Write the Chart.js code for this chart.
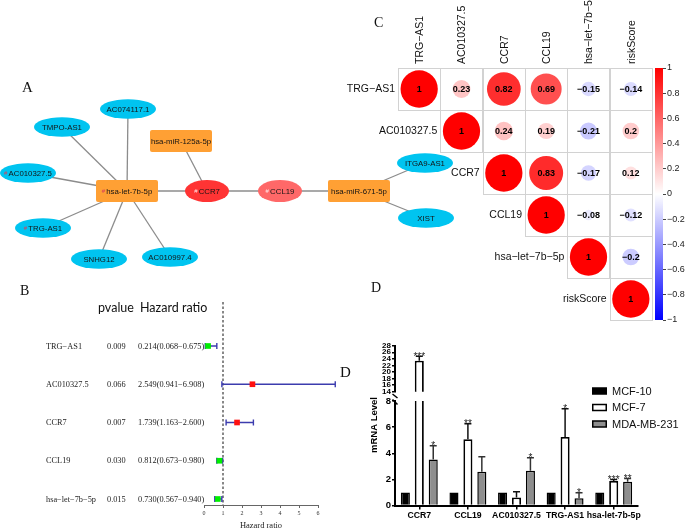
<!DOCTYPE html>
<html><head><meta charset="utf-8">
<script src="https://cdn.jsdelivr.net/npm/chart.js@4.4.1/dist/chart.umd.min.js"></script>
<style>
html,body{margin:0;padding:0;background:#fff;}
#wrap{position:relative;width:685px;height:531px;overflow:hidden;background:#fff;}
canvas{position:absolute;}
.lab{position:absolute;font-family:"Liberation Serif","Times New Roman",serif;color:#111;line-height:1;white-space:nowrap;}
</style></head><body>
<div id="wrap">
<canvas id="net" width="470" height="285" style="left:0px;top:0px"></canvas>
<canvas id="corr" width="330" height="330" style="left:340px;top:0px"></canvas>
<canvas id="cbar" width="85" height="330" style="left:600px;top:0px"></canvas>
<canvas id="forest" width="345" height="251" style="left:0px;top:280px"></canvas>
<canvas id="barUp" width="345" height="70" style="left:340px;top:330px"></canvas>
<canvas id="barLow" width="345" height="201" style="left:340px;top:330px"></canvas>
<div class="lab" style="left:22px;top:80px;font-size:15px">A</div>
<div class="lab" style="left:20px;top:284px;font-size:14px">B</div>
<div class="lab" style="left:374px;top:16px;font-size:14px">C</div>
<div class="lab" style="left:371px;top:281px;font-size:14px">D</div>
<div class="lab" style="left:340px;top:365px;font-size:15px">D</div>
</div>
<script>
// ---------- Panel A: network ----------
const nodeNames = ['AC074117.1','TMPO-AS1','hsa-miR-125a-5p','AC010327.5','hsa-let-7b-5p','CCR7','CCL19','hsa-miR-671-5p','TRG-AS1','SNHG12','AC010997.4','ITGA9-AS1','XIST'];
const nodeKinds = ['lncRNA','lncRNA','miRNA','lncRNA','miRNA','mRNA','mRNA','miRNA','lncRNA','lncRNA','lncRNA','lncRNA','lncRNA'];
const nodeX = [128,62,181,28,127,207,280,359,43,99,170,425,426];
const nodeY = [109,127,141,173,191,191,191,191,228,259,257,163,218];
const markedNodes = ['AC010327.5','hsa-let-7b-5p','CCR7','CCL19','TRG-AS1'];
const edgeFrom = ['hsa-let-7b-5p','hsa-let-7b-5p','hsa-let-7b-5p','hsa-let-7b-5p','hsa-let-7b-5p','hsa-let-7b-5p','hsa-let-7b-5p','CCR7','CCR7','CCL19','hsa-miR-671-5p','hsa-miR-671-5p'];
const edgeTo   = ['AC074117.1','TMPO-AS1','AC010327.5','TRG-AS1','SNHG12','AC010997.4','CCR7','hsa-miR-125a-5p','CCL19','hsa-miR-671-5p','ITGA9-AS1','XIST'];

// ---------- Panel B: forest plot ----------
const forestGenes = ['TRG−AS1','AC010327.5','CCR7','CCL19','hsa−let−7b−5p'];
const forestP = ['0.009','0.066','0.007','0.030','0.015'];
const hazardRatio = [0.214,2.549,1.739,0.812,0.730];
const hrLow = [0.068,0.941,1.163,0.673,0.567];
const hrHigh = [0.675,6.908,2.600,0.980,0.940];

// ---------- Panel C: correlation ----------
const corrLabels = ['TRG−AS1','AC010327.5','CCR7','CCL19','hsa−let−7b−5p','riskScore'];
const corrRow0 = [1,0.23,0.82,0.69,-0.15,-0.14];
const corrRow1 = [null,1,0.24,0.19,-0.21,0.2];
const corrRow2 = [null,null,1,0.83,-0.17,0.12];
const corrRow3 = [null,null,null,1,-0.08,-0.12];
const corrRow4 = [null,null,null,null,1,-0.2];
const corrRow5 = [null,null,null,null,null,1];
const corrRows = [corrRow0,corrRow1,corrRow2,corrRow3,corrRow4,corrRow5];

// ---------- Panel D: qPCR bars ----------
const qpcrGenes = ['CCR7','CCL19','AC010327.5','TRG-AS1','hsa-let-7b-5p'];
const cellLines = ['MCF-10','MCF-7','MDA-MB-231'];
const mcf10 = [1,1,1,1,1];
const mcf7 = [23.4,5.08,0.62,5.25,1.87];
const mda = [3.53,2.58,2.66,0.55,1.82];
const mcf7ErrTop = [24.8,6.25,1.05,7.4,2.0];
const mdaErrTop = [4.57,3.73,3.65,0.98,2.07];
const mcf7Stars = ['***','**','','*','***'];
const mdaStars = ['*','','*','*','**'];

const SANS = '"Liberation Sans", Arial, sans-serif';
const SERIF = '"Liberation Serif", "Times New Roman", serif';
Chart.defaults.font.family = SANS;
Chart.defaults.color = '#000';
Chart.defaults.animation = false;
Chart.defaults.events = [];
Chart.defaults.layout.autoPadding = false;
Chart.defaults.plugins.legend.display = false;
Chart.defaults.plugins.tooltip.enabled = false;

// ===== Network =====
const idx = n => nodeNames.indexOf(n);
const edgeSets = edgeFrom.map((f,i)=>({
  data:[{x:nodeX[idx(f)],y:nodeY[idx(f)]},{x:nodeX[idx(edgeTo[i])],y:nodeY[idx(edgeTo[i])]}],
  showLine:true, borderColor:'#8c8c8c', borderWidth:1.3, pointRadius:0
}));
const mRNAFill = {'CCR7':'#FF3434','CCL19':'#FF6868'};
const netPlugin = {
  id:'netNodes',
  afterDatasetsDraw(chart){
    const {ctx, scales:{x,y}} = chart;
    nodeNames.forEach((name,i)=>{
      const px = x.getPixelForValue(nodeX[i]), py = y.getPixelForValue(nodeY[i]);
      const kind = nodeKinds[i];
      ctx.save();
      ctx.beginPath();
      if (kind==='miRNA'){
        if (ctx.roundRect) ctx.roundRect(px-31,py-11,62,22,2); else ctx.rect(px-31,py-11,62,22);
        ctx.fillStyle='#FFA034';
      } else if (kind==='mRNA'){
        ctx.ellipse(px,py,22,11,0,0,Math.PI*2); ctx.fillStyle=mRNAFill[name];
      } else {
        ctx.ellipse(px,py,28,9.8,0,0,Math.PI*2); ctx.fillStyle='#00C4F0';
      }
      ctx.fill();
      const f = '7.8px '+SANS;
      ctx.font = f; ctx.textBaseline='middle'; ctx.textAlign='left';
      const marked = markedNodes.includes(name);
      const tw = ctx.measureText(name).width;
      const mw = marked ? 4.5 : 0;
      const sx = px - (tw+mw)/2;
      if (marked){
        ctx.font = '6px '+SANS;
        ctx.fillStyle = kind==='mRNA' ? '#FFE8E8' : '#D8405A';
        ctx.fillText('#', sx, py+0.5);
        ctx.font = f;
      }
      ctx.fillStyle = '#141414';
      ctx.fillText(name, sx+mw, py+0.5);
      ctx.restore();
    });
  }
};
new Chart(document.getElementById('net'), {
  type:'scatter',
  data:{datasets:edgeSets},
  options:{responsive:false, devicePixelRatio:1, layout:{padding:0},
    scales:{x:{type:'linear',min:0,max:470,display:false}, y:{type:'linear',min:0,max:285,reverse:true,display:false}}},
  plugins:[netPlugin]
});

// ===== Correlation =====
function corrColor(v){
  const t = Math.abs(v);
  const c = Math.round(255*(1-t));
  return v>=0 ? `rgb(255,${c},${c})` : `rgb(${c},${c},255)`;
}
const fmt = v => String(v).replace('-','−');
const corrPoints = [];
corrRows.forEach((row,i)=>row.forEach((v,j)=>{ if(v!==null) corrPoints.push({x:j,y:i,v}); }));
const corrPlugin = {
  id:'corrDeco',
  beforeDatasetsDraw(chart){
    const {ctx, scales:{x,y}} = chart;
    ctx.save(); ctx.strokeStyle='#d2d2d2'; ctx.lineWidth=1;
    corrRows.forEach((row,i)=>row.forEach((v,j)=>{
      if(v===null) return;
      const l=x.getPixelForValue(j-0.5), r=x.getPixelForValue(j+0.5);
      const t=y.getPixelForValue(i-0.5), b=y.getPixelForValue(i+0.5);
      ctx.strokeRect(Math.round(l)+0.5, Math.round(t)+0.5, Math.round(r-l), Math.round(b-t));
    }));
    ctx.restore();
  },
  afterDatasetsDraw(chart){
    const {ctx, scales:{x,y}} = chart;
    ctx.save();
    ctx.font = 'bold 9px '+SANS; ctx.fillStyle='#000'; ctx.textAlign='center'; ctx.textBaseline='middle';
    corrPoints.forEach(p=>{ ctx.fillText(fmt(p.v), x.getPixelForValue(p.x), y.getPixelForValue(p.y)+0.5); });
    ctx.font = '10.5px '+SANS; ctx.fillStyle='#111';
    corrLabels.forEach((lab,i)=>{
      ctx.textAlign='right'; ctx.textBaseline='middle';
      ctx.fillText(lab, x.getPixelForValue(i-0.5)-3, y.getPixelForValue(i));
      ctx.save();
      ctx.translate(x.getPixelForValue(i)+1, y.getPixelForValue(-0.5)-4);
      ctx.rotate(-Math.PI/2);
      ctx.textAlign='left'; ctx.fillText(lab,0,0);
      ctx.restore();
    });
    ctx.restore();
  }
};
new Chart(document.getElementById('corr'), {
  type:'scatter',
  data:{datasets:[{data:corrPoints, pointStyle:'circle', borderWidth:0,
    backgroundColor: c => corrColor(c.raw.v),
    pointRadius: c => { const a=c.chart.chartArea; const cw = a ? a.width/6 : 42; return Math.sqrt(Math.abs(c.raw.v))*cw*0.44; },
    clip:false}]},
  options:{responsive:false, devicePixelRatio:1, layout:{padding:{left:58,right:18,top:68,bottom:10}},
    scales:{x:{type:'linear',min:-0.5,max:5.5,display:false}, y:{type:'linear',min:-0.5,max:5.5,reverse:true,display:false}}},
  plugins:[corrPlugin]
});

// ===== Colour bar =====
const cbarPlugin = {
  id:'cbarFill',
  beforeDraw(chart){
    const {ctx, chartArea:a} = chart;
    const g = ctx.createLinearGradient(0,a.top,0,a.bottom);
    g.addColorStop(0,'#FF0000'); g.addColorStop(0.5,'#FFFFFF'); g.addColorStop(1,'#0000FF');
    ctx.save(); ctx.fillStyle=g; ctx.fillRect(a.left,a.top,a.width,a.height); ctx.restore();
  }
};
new Chart(document.getElementById('cbar'), {
  type:'scatter',
  data:{datasets:[{data:[]}]},
  options:{responsive:false, devicePixelRatio:1, layout:{padding:{left:55,right:0,top:68,bottom:10}},
    scales:{
      x:{type:'linear',display:false,min:0,max:1},
      y:{type:'linear',position:'right',min:-1,max:1,
        ticks:{stepSize:0.2, font:{size:9}, color:'#222', padding:1, autoSkip:false,
          callback:v=>fmt(Math.round(v*10)/10 === 0 ? 0 : Math.round(v*10)/10)},
        grid:{drawOnChartArea:false, tickLength:3, color:'#444', lineWidth:1},
        border:{display:false},
        afterFit:a=>{a.width=22;}}
    }},
  plugins:[cbarPlugin]
});

// ===== Forest plot =====
const forestPlugin = {
  id:'forestDeco',
  beforeDatasetsDraw(chart){
    const {ctx, chartArea:a, scales:{x,y}} = chart;
    ctx.save();
    ctx.strokeStyle='#888'; ctx.lineWidth=2; ctx.setLineDash([2.5,2]);
    const x1 = x.getPixelForValue(1);
    ctx.beginPath(); ctx.moveTo(x1,a.top); ctx.lineTo(x1,a.bottom); ctx.stroke();
    ctx.setLineDash([]);
    ctx.strokeStyle='#3C3CAE'; ctx.lineWidth=1.4;
    hazardRatio.forEach((h,i)=>{
      const py=y.getPixelForValue(i), l=x.getPixelForValue(hrLow[i]), r=x.getPixelForValue(hrHigh[i]);
      ctx.beginPath(); ctx.moveTo(l,py); ctx.lineTo(r,py);
      ctx.moveTo(l,py-3); ctx.lineTo(l,py+3); ctx.moveTo(r,py-3); ctx.lineTo(r,py+3); ctx.stroke();
    });
    ctx.restore();
  },
  afterDraw(chart){
    const {ctx, scales:{y}} = chart;
    ctx.save();
    ctx.fillStyle='#111'; ctx.textBaseline='alphabetic'; ctx.textAlign='left';
    ctx.font = '12.5px Lato, "Open Sans", sans-serif';
    ctx.fillText('pvalue', 98, 32); ctx.fillText('Hazard ratio', 140, 32);
    ctx.font = '8.3px '+SERIF; ctx.fillStyle='#222'; ctx.textBaseline='middle';
    forestGenes.forEach((g,i)=>{
      const py=y.getPixelForValue(i)+0.5;
      ctx.fillText(g,46,py); ctx.fillText(forestP[i],107,py);
      ctx.fillText(`${hazardRatio[i].toFixed(3)}(${hrLow[i].toFixed(3)}−${hrHigh[i].toFixed(3)})`,138,py);
    });
    ctx.restore();
  }
};
new Chart(document.getElementById('forest'), {
  type:'scatter',
  data:{datasets:[{data:hazardRatio.map((h,i)=>({x:h,y:i})), pointStyle:'rect', pointRadius:4, borderWidth:0,
    backgroundColor:c=>c.raw.x<1?'#00EE00':'#FF1010', clip:false}]},
  options:{responsive:false, devicePixelRatio:1, layout:{padding:{left:204,right:27,top:22,bottom:0}},
    scales:{
      x:{type:'linear',min:0,max:6,
        ticks:{stepSize:1,font:{family:SERIF,size:6},color:'#333',padding:2},
        grid:{drawOnChartArea:false,tickLength:3,color:'#666',lineWidth:1},
        border:{color:'#666',width:1},
        title:{display:true,text:'Hazard ratio',font:{family:SERIF,size:8.5},color:'#222',padding:{top:4,bottom:0}},
        afterFit:a=>{a.height=26;}},
      y:{type:'linear',min:-1.15,max:4.157,reverse:true,display:false}
    }},
  plugins:[forestPlugin]
});

// ===== Bar charts (broken axis) =====
function barSets(){
  return [
    {label:cellLines[0], data:mcf10, backgroundColor:'#000', borderColor:'#000', borderWidth:1.5, clip:0},
    {label:cellLines[1], data:mcf7, backgroundColor:'#fff', borderColor:'#000', borderWidth:1.8, clip:0},
    {label:cellLines[2], data:mda, backgroundColor:'#8e8e8e', borderColor:'#000', borderWidth:1.5, clip:0}
  ];
}
function drawErrors(chart){
  const {ctx, chartArea:a, scales:{y}} = chart;
  const sets = [[1,mcf7,mcf7ErrTop,mcf7Stars,'#111'],[2,mda,mdaErrTop,mdaStars,'#333']];
  sets.forEach(([di,vals,tops,stars,col])=>{
    chart.getDatasetMeta(di).data.forEach((bar,i)=>{
      const bx=bar.x, y0=y.getPixelForValue(vals[i]), y1=y.getPixelForValue(tops[i]);
      ctx.save();
      ctx.beginPath(); ctx.rect(a.left,a.top-1,a.width,a.height+1); ctx.clip();
      ctx.strokeStyle=col; ctx.lineWidth=1.5;
      ctx.beginPath(); ctx.moveTo(bx,y0); ctx.lineTo(bx,y1); ctx.moveTo(bx-3.5,y1); ctx.lineTo(bx+3.5,y1); ctx.stroke();
      ctx.restore();
      if (stars[i] && tops[i] <= y.max && vals[i] >= y.min){
        ctx.save(); ctx.font='10px '+SANS; ctx.fillStyle='#222'; ctx.textAlign='center'; ctx.textBaseline='alphabetic';
        ctx.fillText(stars[i], bx, y1+3.5); ctx.restore();
      }
    });
  });
}
const yCommon = {
  grid:{drawOnChartArea:false,tickLength:3,color:'#000',lineWidth:1.5},
  border:{color:'#000',width:2},
  afterFit:a=>{a.width=55;}
};
const xCommon = {type:'category', labels:qpcrGenes, offset:true};
new Chart(document.getElementById('barUp'), {
  type:'bar',
  data:{labels:qpcrGenes, datasets:barSets()},
  options:{responsive:false, devicePixelRatio:1, barPercentage:0.65, categoryPercentage:0.86,
    layout:{padding:{left:0,right:47,top:15.7,bottom:8.3}},
    scales:{
      x:Object.assign({},xCommon,{display:false}),
      y:Object.assign({},yCommon,{type:'linear',min:14,max:28,
        ticks:{stepSize:2,autoSkip:false,font:{size:8,weight:'bold'},color:'#000',padding:1}})
    }},
  plugins:[{id:'errUp', afterDatasetsDraw:drawErrors}]
});
new Chart(document.getElementById('barLow'), {
  type:'bar',
  data:{labels:qpcrGenes, datasets:barSets()},
  options:{responsive:false, devicePixelRatio:1, barPercentage:0.65, categoryPercentage:0.86,
    layout:{padding:{left:0,right:47,top:71,bottom:0}},
    scales:{
      x:Object.assign({},xCommon,{
        grid:{offset:false,drawOnChartArea:false,tickLength:4,color:'#000',lineWidth:1.5},
        border:{color:'#000',width:2},
        ticks:{font:{size:8.7,weight:'bold'},color:'#000',autoSkip:false,maxRotation:0,minRotation:0,padding:1},
        afterFit:a=>{a.height=25.5;}}),
      y:Object.assign({},yCommon,{type:'linear',min:0,max:8,
        ticks:{stepSize:2,autoSkip:false,font:{size:9.5,weight:'bold'},color:'#000',padding:1}})
    }},
  plugins:[{id:'errLow', afterDatasetsDraw:drawErrors,
    afterDraw(chart){
      const {ctx, chartArea:a} = chart;
      ctx.save();
      ctx.strokeStyle='#000'; ctx.lineWidth=1.5;
      ctx.beginPath();
      ctx.moveTo(a.left-2.5,a.top-7); ctx.lineTo(a.left+2.5,a.top-3);
      ctx.moveTo(a.left-2.5,a.top-1.5); ctx.lineTo(a.left+2.5,a.top+3.5);
      ctx.stroke();
      ctx.save(); ctx.translate(34,95); ctx.rotate(-Math.PI/2);
      ctx.font='bold 9.5px '+SANS; ctx.fillStyle='#000'; ctx.textAlign='center'; ctx.textBaseline='middle';
      ctx.fillText('mRNA Level',0,0); ctx.restore();
      const rows=[61,77.5,94];
      chart.data.datasets.forEach((ds,i)=>{
        ctx.fillStyle=ds.backgroundColor; ctx.strokeStyle='#000'; ctx.lineWidth=1.5;
        ctx.fillRect(252.75,rows[i]-3,13.5,6); ctx.strokeRect(252.75,rows[i]-3,13.5,6);
        ctx.fillStyle='#111'; ctx.font='11px '+SANS; ctx.textAlign='left'; ctx.textBaseline='middle';
        ctx.fillText(ds.label,272,rows[i]+0.5);
      });
      ctx.restore();
    }}]
});
</script>
</body></html>
